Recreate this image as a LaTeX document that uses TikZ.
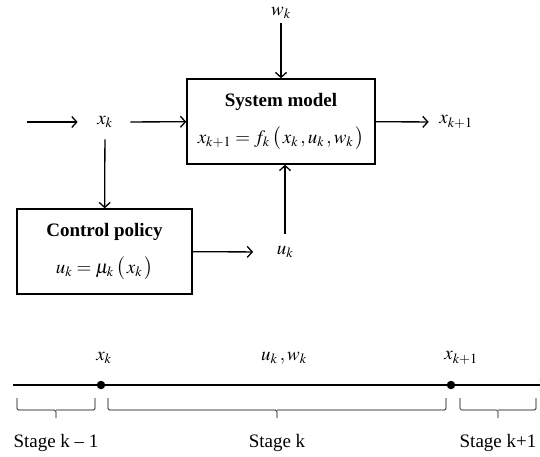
\documentclass[tikz,border=0pt]{standalone}
\usepackage{mathptmx}
\usepackage{fontspec}
\setmainfont{Liberation Serif}
\usetikzlibrary{positioning, arrows.meta}

\tikzset{
	block/.style={draw,line width=1.4pt,align=center,inner sep=0pt,font=\fontsize{19}{22}\selectfont},
	lbl/.style={inner sep=0pt,font=\fontsize{19}{22}\selectfont},
	dot/.style={circle,fill,inner sep=0pt,minimum size=8.5pt},
	stagebrace/.style={line width=0.7pt,rounded corners=1.5pt},
}

\begin{document}
\begin{tikzpicture}[x=1pt,y=-1pt,line width=1.3pt,>={Straight Barb[length=5pt,width=11pt]}]
		\useasboundingbox (0,0) rectangle (540,456);
		% blocks
		\node[block,minimum width=188pt,minimum height=85pt] (sys) at (281,121.5)
			{
				\textbf{System model}\\[15pt]
				$x_{k+1}=f_k\,\bigl(\,x_k\,,u_k\,,w_k\,\bigr)$
			};
		\node[block,minimum width=175pt,minimum height=85pt] (ctrl) at (104.5,251.5)
			{
				\textbf{Control policy}\\[15pt]
				$u_k=\mu_k\,\bigl(\,x_k\,\bigr)$
			};
		% signals
		\node[lbl] (wk) at (281,13) {$w_k$};
		\node[lbl] (xk) at (105,122) {$x_k$};
		\node[lbl] (xout) at (456,122) {$x_{k+1}$};
		\node[lbl] (uk) at (285,252) {$u_k$};
		\coordinate (in) at (27,122);
		\draw[->,shorten >=19pt] (in) -- (xk);
		\draw[->,shorten <=17pt] (xk) -- (sys);
		\draw[->,shorten >=10pt] (sys) -- (xout);
		\draw[->,shorten <=4pt] (wk) -- (wk |- sys.north);
		\draw[->,shorten <=11pt] (xk) -- (ctrl);
		\draw[->,shorten >=23pt] (ctrl) -- (uk);
		\draw[->,shorten <=12pt] (uk) -- (uk |- sys.south);
		% time line
		\coordinate (t0) at (13,385);
		\coordinate (t1) at (546,385);
		\draw[->] (t0) -- (t1);
		\node[dot] (d1) at (101,385) {};
		\node[dot] (d2) at (451,385) {};
		\node[lbl] (txk) at (104,358) {$x_k$};
		\node[lbl] (tuw) at (284,358) {$u_k\,, w_k$};
		\node[lbl] (txk1) at (461,358) {$x_{k+1}$};
		\foreach \a/\b in {17/95,108/446,460/536}
			\draw[stagebrace] (\a,398) |- ({(\a+\b)/2},410) -- ({(\a+\b)/2},418)
				({(\a+\b)/2},410) -| (\b,398);
		\node[lbl] (s1) at (56,443) {Stage k -- 1};
		\node[lbl] (s2) at (277,443) {Stage k};
		\node[lbl] (s3) at (498,443) {Stage k+1};
\end{tikzpicture}
\end{document}
